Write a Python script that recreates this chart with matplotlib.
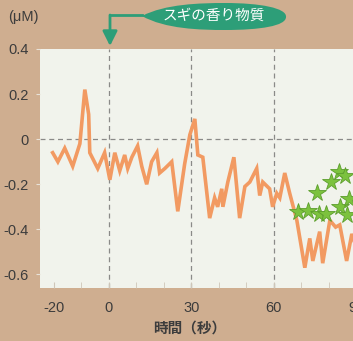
import matplotlib.pyplot as plt
import matplotlib.patches as mpatches
from matplotlib.path import Path
import numpy as np

plt.rcParams['font.family'] = ['Liberation Sans', 'Noto Sans CJK JP', 'DejaVu Sans']
plt.rcParams['axes.unicode_minus'] = False

# concentration trace (s, uM)
time_s = [-20.4, -18.5, -16.0, -13.1, -10.5, -8.7, -7.3, -6.9, -4.0, -1.5,
          0.4, 2.2, 4.0, 5.8, 6.9, 8.4, 10.5, 12.0, 13.8, 15.6,
          17.5, 18.5, 20.4, 22.9, 25.1, 27.6, 29.5, 31.3, 32.4, 34.2,
          36.7, 38.5, 39.6, 41.1, 41.5, 43.3, 45.5, 47.6, 49.5, 51.3,
          53.8, 54.9, 56.0, 58.5, 59.6, 61.1, 62.2, 64.0, 65.8, 68.4,
          71.3, 73.1, 74.2, 76.7, 77.8, 80.4, 82.5, 84.0, 86.5, 88.4, 90.5]
conc = [-0.06, -0.10, -0.04, -0.12, -0.02, 0.22, 0.11, -0.06, -0.13, -0.06,
        -0.18, -0.06, -0.14, -0.07, -0.13, -0.08, -0.03, -0.12, -0.20, -0.10,
        -0.06, -0.15, -0.13, -0.10, -0.32, -0.11, 0.02, 0.09, -0.07, -0.08,
        -0.35, -0.26, -0.30, -0.22, -0.30, -0.19, -0.08, -0.35, -0.21, -0.19,
        -0.13, -0.25, -0.19, -0.22, -0.30, -0.24, -0.26, -0.15, -0.24, -0.36,
        -0.57, -0.44, -0.54, -0.41, -0.55, -0.36, -0.39, -0.38, -0.54, -0.42, -0.50]

# second measurement (star markers)
star_t = [68.7, 72.4, 75.6, 76.4, 78.9, 80.7, 83.6, 85.8, 84.0, 87.3, 86.5]
star_v = [-0.325, -0.32, -0.24, -0.33, -0.33, -0.19, -0.145, -0.165, -0.30, -0.265, -0.335]

xticks = [-20, 0, 30, 60, 90]
yticks = [0.4, 0.2, 0, -0.2, -0.4, -0.6]
ylabels = ['0.4', '0.2', '0', '-0.2', '-0.4', '-0.6']

W, H = 353, 341
bg = '#cfae90'
fig = plt.figure(figsize=(W / 100, H / 100), dpi=100, facecolor=bg)
ax = fig.add_axes([40 / W, (H - 288) / H, 330 / W, 239 / H])
ax.set_facecolor('#f1f3ec')
ax.set_xlim(-25, 95)
ax.set_ylim(-0.66, 0.4)

for s in ax.spines.values():
    s.set_visible(False)

for v in [0, 30, 60, 90]:
    ax.axvline(v, color='#8a8a88', lw=0.9, ls=(0, (4, 3)), zorder=1)
ax.axhline(0, color='#8a8a88', lw=0.9, ls=(0, (4, 3)), zorder=1)

ax.plot(time_s, conc, color='#f29a62', lw=2.6, zorder=3, solid_joinstyle='miter')
ax.plot(star_t, star_v, ls='none', marker='*', ms=13, mfc='#7cc23e',
        mec='#5c9e2c', mew=0.6, zorder=4)

ax.set_xticks(xticks)
ax.set_xticks(np.arange(-20, 91, 10), minor=True)
ax.set_yticks(yticks)
ax.set_yticklabels(ylabels)
ax.tick_params(axis='x', which='both', direction='in', length=4, color='#cfc6b8',
               labelsize=10.5, labelcolor='#3c3c3c', pad=9)
ax.tick_params(axis='y', direction='out', length=3, color='#e8e2d8',
               labelsize=10.5, labelcolor='#3c3c3c', pad=5)

fig.text(8 / W, (H - 17) / H, '(μM)', fontsize=10.5, color='#3c3c3c',
         ha='left', va='center')
fig.text(190 / W, (H - 329) / H, '時間（秒）', fontsize=10.5, color='#3c3c3c',
         ha='center', va='center', fontweight='bold')

# label bubble with pointed left end
def px(x, y):
    return (x / W, (H - y) / H)

green = '#2d9e78'
verts = [px(142, 16),
         px(165, 4), px(200, 3), px(225, 3),
         px(260, 3), px(287, 8), px(286, 17),
         px(286, 26), px(260, 30), px(225, 30),
         px(200, 30), px(165, 29), px(142, 16)]
codes = [Path.MOVETO] + [Path.CURVE4] * 12
fig.patches.append(mpatches.PathPatch(Path(verts, codes), transform=fig.transFigure,
                                      facecolor=green, edgecolor='none'))
fig.text(214 / W, (H - 16) / H, 'スギの香り物質', fontsize=10.5, color='white',
         ha='center', va='center', family=['Noto Sans CJK JP', 'DejaVu Sans'])

fig.lines.append(plt.Line2D([142 / W, 110 / W], [(H - 15) / H, (H - 15) / H],
                            transform=fig.transFigure, color=green, lw=2))
fig.patches.append(mpatches.FancyArrowPatch(px(110, 15), px(110, 46),
                                            transform=fig.transFigure,
                                            arrowstyle='-|>,head_length=4,head_width=2',
                                            color=green, lw=2, mutation_scale=2.2,
                                            shrinkA=0, shrinkB=0))

fig.savefig('out.png', dpi=100, facecolor=bg)
